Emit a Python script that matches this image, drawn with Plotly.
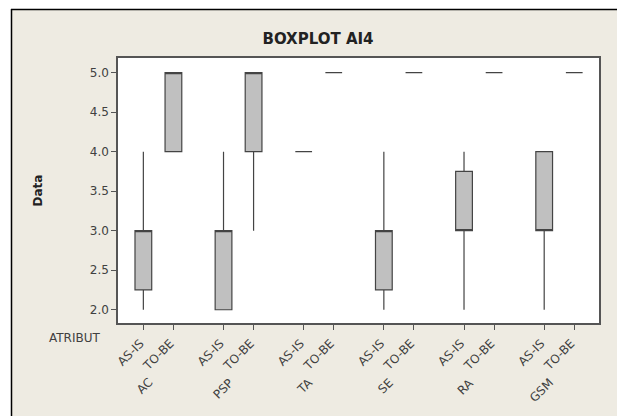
import plotly.graph_objects as go

# ---- data ----
groups = ["AC", "PSP", "TA", "SE", "RA", "GSM"]
states = ["AS-IS", "TO-BE"]
lower_whisker = [2.0, 4.0, 2.0, 3.0, 4.0, 5.0, 2.0, 5.0, 2.0, 5.0, 2.0, 5.0]
q1_vals       = [2.25, 4.0, 2.0, 4.0, 4.0, 5.0, 2.25, 5.0, 3.0, 5.0, 3.0, 5.0]
median_vals   = [3.0, 5.0, 3.0, 5.0, 4.0, 5.0, 3.0, 5.0, 3.0, 5.0, 3.0, 5.0]
q3_vals       = [3.0, 5.0, 3.0, 5.0, 4.0, 5.0, 3.0, 5.0, 3.75, 5.0, 4.0, 5.0]
upper_whisker = [4.0, 5.0, 4.0, 5.0, 4.0, 5.0, 4.0, 5.0, 4.0, 5.0, 4.0, 5.0]
y_ticks = [2.0, 2.5, 3.0, 3.5, 4.0, 4.5, 5.0]

# ---- layout geometry (pixels) ----
W, H = 617, 416
L, R, T, B = 118, 18, 58, 93
PW, PH = W - L - R, H - T - B
def fx(px):
    return (px - L) / PW
def fy(py):
    return (H - B - py) / PH

BEIGE = "#EEEBE2"
TXT = "#404040"

fig = go.Figure()
positions, labels = [], []
for gi, g in enumerate(groups):
    for si, s in enumerate(states):
        k = gi * 2 + si
        pos = gi * 8 + si * 3
        positions.append(pos)
        labels.append(s)
        fig.add_trace(go.Box(
            x=[pos], q1=[q1_vals[k]], median=[median_vals[k]], q3=[q3_vals[k]],
            lowerfence=[lower_whisker[k]], upperfence=[upper_whisker[k]],
            width=1.67, whiskerwidth=0, boxpoints=False,
            fillcolor="#C0C0C0", line=dict(color="#444444", width=1.2),
            showlegend=False, hoverinfo="skip",
        ))

fig.update_layout(
    width=W, height=H,
    margin=dict(l=L, r=R, t=T, b=B),
    paper_bgcolor=BEIGE, plot_bgcolor="white",
    font=dict(family="DejaVu Sans", size=12, color=TXT),
    title=dict(text="<b>BOXPLOT AI4</b>", xref="container", yref="container",
               x=318 / W, y=1 - 39 / H, xanchor="center", yanchor="middle",
               font=dict(family="DejaVu Sans", size=15, color="#222222")),
    xaxis=dict(range=[-2.53, 45.47], tickmode="array", tickvals=positions, ticktext=labels,
               tickangle=-45, ticks="outside", ticklen=5, tickcolor="#555555",
               ticklabelshift=-3, ticklabelstandoff=2,
               showline=True, linecolor="#555555", linewidth=1.5, mirror=True,
               showgrid=False, zeroline=False, tickfont=dict(size=12, color=TXT)),
    yaxis=dict(range=[1.832, 5.186], tickmode="array", tickvals=y_ticks,
               ticktext=[f"{v:.1f}" for v in y_ticks],
               ticks="outside", ticklen=5, tickcolor="#555555",
               showline=True, linecolor="#555555", linewidth=1.5, mirror=True,
               showgrid=False, zeroline=False, tickfont=dict(size=12, color=TXT)),
)

annotations = []
for gi, g in enumerate(groups):
    annotations.append(dict(
        text=g, x=gi * 8 + 1.5, xref="x", y=fy(373), yref="paper",
        xanchor="right", yanchor="top", textangle=-45, showarrow=False,
        font=dict(size=12, color=TXT)))
annotations.append(dict(text="ATRIBUT", x=fx(103), y=fy(338), xref="paper", yref="paper",
                        xanchor="right", yanchor="middle", showarrow=False,
                        font=dict(size=12, color=TXT)))
annotations.append(dict(text="<b>Data</b>", x=fx(37), y=0.5, xref="paper", yref="paper",
                        xanchor="center", yanchor="middle", textangle=-90, showarrow=False,
                        font=dict(size=12, color="#222222")))
fig.update_layout(annotations=annotations)

# white outer margins and black frame lines
shapes = [
    dict(type="rect", xref="paper", yref="paper", x0=fx(-20), x1=fx(W + 20), y0=fy(9), y1=fy(-20),
         fillcolor="white", line=dict(width=0), layer="above"),
    dict(type="rect", xref="paper", yref="paper", x0=fx(-20), x1=fx(11), y0=fy(H + 20), y1=fy(-20),
         fillcolor="white", line=dict(width=0), layer="above"),
    dict(type="line", xref="paper", yref="paper", x0=fx(11), x1=fx(W + 20), y0=fy(9.5), y1=fy(9.5),
         line=dict(color="black", width=1.5), layer="above"),
    dict(type="line", xref="paper", yref="paper", x0=fx(11.5), x1=fx(11.5), y0=fy(9), y1=fy(H + 20),
         line=dict(color="black", width=1.5), layer="above"),
]
fig.update_layout(shapes=shapes)

fig.write_html("out.html")
